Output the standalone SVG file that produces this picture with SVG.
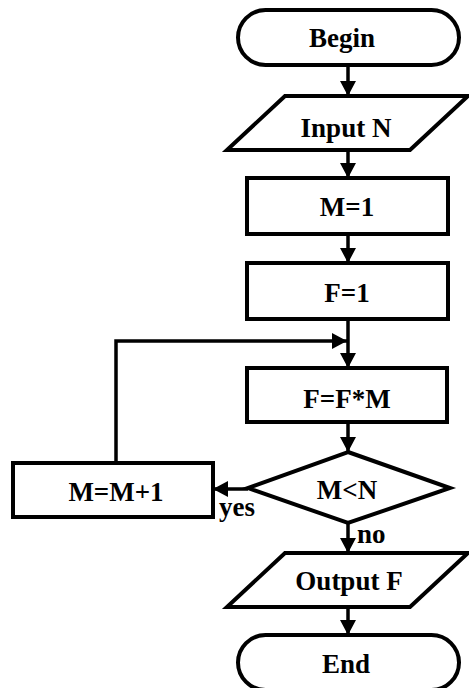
<svg xmlns="http://www.w3.org/2000/svg" width="469" height="688" viewBox="0 0 469 688">
  <style>
    .shape { fill: #ffffff; stroke: #000000; stroke-width: 4; stroke-linejoin: miter; }
    .label { font-family: "Liberation Serif", "Times New Roman", serif; font-weight: bold; font-size: 27px; fill: #000000; text-anchor: middle; }
    .side { font-family: "Liberation Serif", "Times New Roman", serif; font-weight: bold; font-size: 27px; fill: #000000; }
    .edge { fill: none; stroke: #000000; stroke-width: 3.5; marker-end: url(#arrow); }
  </style>
  <defs>
    <marker id="arrow" markerUnits="userSpaceOnUse" markerWidth="16" markerHeight="16" refX="15" refY="8" orient="auto">
      <path d="M0,0 L15,8 L0,16 Z" fill="#000000"/>
    </marker>
  </defs>
  <rect width="469" height="688" fill="#ffffff"/>

  <!-- connectors -->
  <g id="connectors">
    <line class="edge" x1="348" y1="65" x2="348" y2="96"/>
    <line class="edge" x1="348" y1="150" x2="348" y2="178"/>
    <line class="edge" x1="348" y1="234" x2="348" y2="263"/>
    <line class="edge" x1="348" y1="319" x2="348" y2="368"/>
    <line class="edge" x1="348" y1="422" x2="348" y2="452"/>
    <polyline class="edge" points="116,463 116,341 347,341"/>
    <line class="edge" x1="248" y1="489" x2="213" y2="489"/>
    <line class="edge" x1="348" y1="523" x2="348" y2="553"/>
    <line class="edge" x1="348" y1="607" x2="348" y2="635"/>
    <text class="side" x="219" y="516">yes</text>
    <text class="side" x="357" y="543">no</text>
  </g>

  <g id="begin">
    <rect class="shape" x="238" y="10" width="221" height="55" rx="27.5" ry="27.5"/>
    <text class="label" x="342" y="47">Begin</text>
  </g>

  <g id="input">
    <polygon class="shape" points="285,96 468,96 410,150 227,150"/>
    <text class="label" x="346" y="137">Input N</text>
  </g>

  <g id="m-init">
    <rect class="shape" x="247" y="178" width="201" height="56"/>
    <text class="label" x="347" y="216">M=1</text>
  </g>

  <g id="f-init">
    <rect class="shape" x="247" y="263" width="201" height="56"/>
    <text class="label" x="347" y="302">F=1</text>
  </g>

  <g id="multiply">
    <rect class="shape" x="247" y="368" width="200" height="54"/>
    <text class="label" x="347" y="408">F=F*M</text>
  </g>

  <g id="compare">
    <polygon class="shape" points="348,452 450,488 348,523 248,488"/>
    <text class="label" x="347" y="499">M&lt;N</text>
  </g>

  <g id="increment">
    <rect class="shape" x="13" y="463" width="200" height="54"/>
    <text class="label" x="116" y="501">M=M+1</text>
  </g>

  <g id="output">
    <polygon class="shape" points="285,553 468,553 410,607 227,607"/>
    <text class="label" x="349" y="590">Output F</text>
  </g>

  <g id="end">
    <rect class="shape" x="238" y="635" width="221" height="55" rx="27.5" ry="27.5"/>
    <text class="label" x="346" y="673">End</text>
  </g>
</svg>
